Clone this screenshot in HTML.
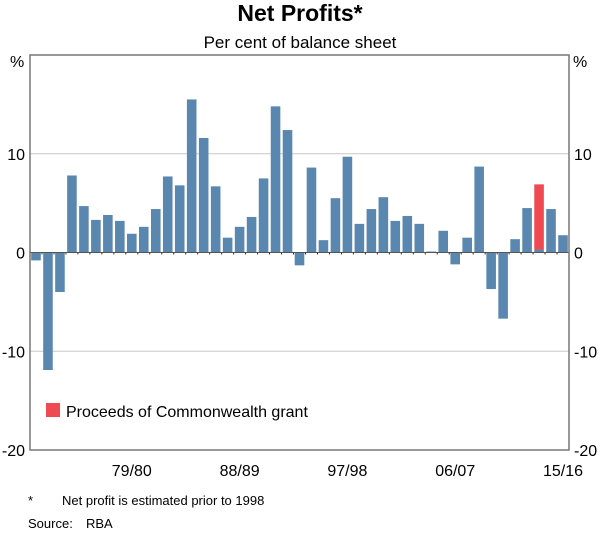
<!DOCTYPE html>
<html><head><meta charset="utf-8"><style>
body{margin:0;background:#fff;font-family:"Liberation Sans",Arial,sans-serif}
svg text{font-family:"Liberation Sans",Arial,sans-serif;fill:#000}
</style></head><body>
<svg id="c" width="600" height="532" xmlns="http://www.w3.org/2000/svg">
<text x="300" y="21" font-size="23" font-weight="bold" text-anchor="middle">Net Profits*</text>
<text x="300" y="48" font-size="17" text-anchor="middle">Per cent of balance sheet</text>
<g id="grid"></g><g id="bars"></g><g id="axes"></g>
<rect x="46" y="403" width="14" height="14" fill="#ef4a52"/>
<text x="66" y="417" font-size="16">Proceeds of Commonwealth grant</text>
<text x="28" y="505" font-size="13">*</text>
<text x="62" y="505" font-size="13">Net profit is estimated prior to 1998</text>
<text x="28" y="528" font-size="13">Source:</text>
<text x="86" y="528" font-size="13">RBA</text>
</svg>
<script>
const values=[-0.8,-11.9,-4.0,7.8,4.7,3.3,3.8,3.2,1.9,2.6,4.4,7.7,6.8,15.5,11.6,6.7,1.5,2.6,3.6,7.5,14.8,12.4,-1.3,8.6,1.25,5.5,9.7,2.9,4.4,5.6,3.2,3.7,2.9,0.1,2.2,-1.2,1.5,8.7,-3.7,-6.7,1.35,4.5,0.3,4.4,1.75];
const grant=[0,0,0,0,0,0,0,0,0,0,0,0,0,0,0,0,0,0,0,0,0,0,0,0,0,0,0,0,0,0,0,0,0,0,0,0,0,0,0,0,0,0,6.6,0,0];
const yTicks=[10,0,-10,-20];
const xLabels=["79/80","88/89","97/98","06/07","15/16"];
const xLabelIdx=[8,17,26,35,44];
const L=30,R=569,T=55,B=450,ymin=-20,ymax=20;
const y=v=>T+(ymax-v)/(ymax-ymin)*(B-T);
const n=values.length,step=(R-L)/n;
const x=i=>L+i*step;
const ns="http://www.w3.org/2000/svg";
function mk(tag,attrs,parent,txt){const e=document.createElementNS(ns,tag);for(const k in attrs)e.setAttribute(k,attrs[k]);if(txt!==undefined)e.textContent=txt;document.getElementById(parent).appendChild(e);return e;}
yTicks.forEach(t=>{
  if(t!==0&&t!==-20){const g=mk('line',{x1:L,x2:R,y1:y(t),y2:y(t),stroke:'#c8c8c8','stroke-width':1},'grid');
  
  }
  const a=mk('text',{x:L-5,y:y(t)+6,'font-size':16,'text-anchor':'end'},'axes',t);
  
  
  const b=mk('text',{x:R+5,y:y(t)+6,'font-size':16},'axes',t);
  
  
});
values.forEach((v,i)=>{
  const bw=step*0.8,bx=x(i)+(step-bw)/2;
  const r=mk('rect',{x:bx,y:Math.min(y(v),y(0)),width:bw,height:Math.abs(y(v)-y(0)),fill:'#5a87b0'},'bars');
  
  
  if(grant[i]){const g=mk('rect',{x:bx,y:y(v+grant[i]),width:bw,height:y(v)-y(v+grant[i]),fill:'#ef4a52'},'bars');
  
  }
});
const z=mk('line',{x1:L,x2:R,y1:y(0),y2:y(0),stroke:'#555','stroke-width':1},'axes');


for(let i=1;i<n;i++){const tk=mk('line',{x1:x(i),x2:x(i),y1:y(0),y2:y(0)+2,stroke:'#333'},'axes');

}
const fr=mk('rect',{x:L,y:T,width:R-L,height:B-T,fill:'none',stroke:'#777','stroke-width':1.5},'axes');


const pl=mk('text',{x:10,y:T+12,'font-size':16},'axes','%');


const pr=mk('text',{x:R+4,y:T+12,'font-size':16},'axes','%');


xLabels.forEach((l,k)=>{const t=mk('text',{x:x(xLabelIdx[k])+step/2,y:B+26,'font-size':16,'text-anchor':'middle'},'axes',l.replace('/',' / ').replace(' / ','/'));

});
</script>
</body></html>
